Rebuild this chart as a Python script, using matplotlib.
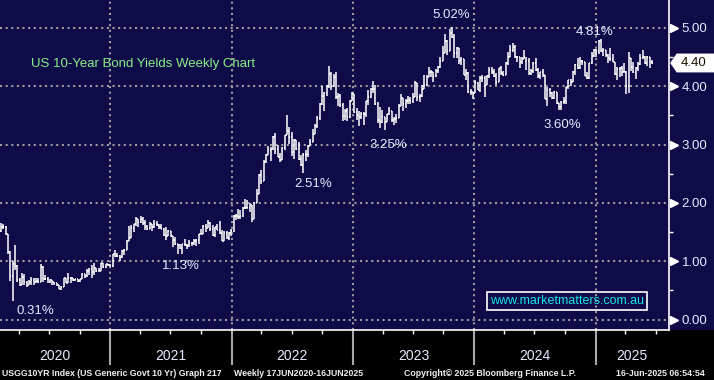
import numpy as np
import pandas as pd
import matplotlib
matplotlib.use('Agg')
import matplotlib.pyplot as plt
import matplotlib.dates as mdates
from matplotlib.patches import Rectangle, Polygon
from matplotlib.transforms import blended_transform_factory

plt.rcParams['font.family'] = ['Liberation Sans', 'DejaVu Sans']

# weekly bars (Friday close), US 10Y yield
first_open = 1.51

close_2020 = [1.58, 1.59, 1.47, 1.15, 0.74, 0.96, 0.92, 0.67, 0.59, 0.73, 0.64, 0.60,
              0.64, 0.68, 0.64, 0.66, 0.65, 0.90, 0.70, 0.69, 0.64, 0.67, 0.64, 0.63,
              0.59, 0.53, 0.56, 0.71, 0.63, 0.72, 0.72, 0.67, 0.69, 0.66, 0.70, 0.78,
              0.74, 0.84, 0.87, 0.82, 0.89, 0.83, 0.84, 0.97, 0.90, 0.95, 0.94]
high_2020 = [1.66, 1.64, 1.60, 1.46, 1.17, 1.00, 1.28, 0.93, 0.72, 0.79, 0.78, 0.66,
             0.67, 0.73, 0.71, 0.71, 0.72, 0.95, 0.91, 0.76, 0.73, 0.70, 0.68, 0.64,
             0.62, 0.59, 0.58, 0.72, 0.71, 0.79, 0.73, 0.72, 0.70, 0.69, 0.70, 0.79,
             0.78, 0.87, 0.88, 0.94, 0.97, 0.89, 0.88, 0.97, 0.97, 0.95, 0.96]
low_2020 = [1.50, 1.56, 1.45, 1.12, 0.66, 0.31, 0.85, 0.65, 0.57, 0.59, 0.60, 0.55,
            0.59, 0.60, 0.60, 0.63, 0.63, 0.65, 0.65, 0.67, 0.63, 0.63, 0.59, 0.60,
            0.57, 0.52, 0.51, 0.55, 0.62, 0.63, 0.62, 0.66, 0.66, 0.64, 0.64, 0.70,
            0.71, 0.73, 0.76, 0.72, 0.76, 0.82, 0.83, 0.84, 0.88, 0.88, 0.91]

close_2021 = [0.92, 1.12, 1.09, 1.09, 1.07, 1.17, 1.20, 1.34, 1.40, 1.57, 1.63, 1.72,
              1.67, 1.72, 1.66, 1.58, 1.56, 1.63, 1.58, 1.63, 1.62, 1.59, 1.55, 1.45,
              1.44, 1.52, 1.43, 1.36, 1.29, 1.28, 1.22, 1.30, 1.28, 1.26, 1.31, 1.32,
              1.34, 1.37, 1.46, 1.47, 1.61, 1.57, 1.65, 1.56, 1.45, 1.58, 1.54, 1.48,
              1.35, 1.48, 1.40, 1.49, 1.51]
high_2021 = [0.95, 1.13, 1.19, 1.14, 1.11, 1.19, 1.21, 1.36, 1.61, 1.62, 1.64, 1.75,
             1.73, 1.77, 1.75, 1.70, 1.62, 1.68, 1.64, 1.70, 1.69, 1.63, 1.64, 1.57,
             1.59, 1.54, 1.51, 1.44, 1.42, 1.30, 1.29, 1.30, 1.38, 1.30, 1.37, 1.33,
             1.38, 1.38, 1.47, 1.56, 1.62, 1.63, 1.70, 1.67, 1.62, 1.59, 1.64, 1.69,
             1.53, 1.52, 1.52, 1.50, 1.55]
low_2021 = [0.91, 0.90, 1.07, 1.07, 1.00, 1.06, 1.11, 1.20, 1.34, 1.39, 1.50, 1.60,
            1.58, 1.66, 1.62, 1.53, 1.53, 1.55, 1.52, 1.57, 1.60, 1.55, 1.55, 1.43,
            1.36, 1.44, 1.42, 1.25, 1.28, 1.13, 1.21, 1.13, 1.26, 1.21, 1.25, 1.26,
            1.28, 1.26, 1.30, 1.46, 1.46, 1.50, 1.57, 1.52, 1.43, 1.42, 1.53, 1.47,
            1.34, 1.41, 1.38, 1.36, 1.44]

close_2022 = [1.77, 1.78, 1.75, 1.78, 1.92, 1.92, 1.92, 1.97, 1.73, 2.00, 2.15, 2.48,
              2.38, 2.70, 2.83, 2.90, 2.93, 3.13, 2.92, 2.78, 2.74, 2.94, 3.16, 3.23,
              3.13, 2.88, 3.08, 2.92, 2.75, 2.65, 2.83, 2.84, 2.98, 3.04, 3.19, 3.32,
              3.45, 3.69, 3.83, 3.88, 4.00, 4.21, 4.01, 4.16, 3.81, 3.83, 3.68, 3.49,
              3.58, 3.48, 3.75, 3.87]
high_2022 = [1.80, 1.81, 1.90, 1.88, 1.93, 2.06, 2.05, 2.00, 1.87, 2.02, 2.24, 2.50,
             2.56, 2.73, 2.84, 2.98, 2.96, 3.14, 3.20, 3.00, 2.86, 2.96, 3.17, 3.50,
             3.30, 3.21, 3.10, 3.07, 3.05, 2.83, 2.86, 2.90, 3.00, 3.10, 3.26, 3.36,
             3.49, 3.72, 4.00, 3.90, 4.02, 4.34, 4.25, 4.21, 4.24, 3.89, 3.86, 3.72,
             3.61, 3.62, 3.76, 3.90]
low_2022 = [1.50, 1.70, 1.73, 1.72, 1.75, 1.90, 1.92, 1.84, 1.68, 1.72, 1.99, 2.15,
            2.33, 2.38, 2.69, 2.82, 2.72, 2.91, 2.84, 2.78, 2.71, 2.74, 2.91, 3.17,
            3.01, 2.80, 2.75, 2.90, 2.74, 2.63, 2.52, 2.72, 2.79, 2.98, 3.06, 3.19,
            3.28, 3.43, 3.68, 3.57, 3.84, 3.97, 3.93, 3.98, 3.79, 3.67, 3.65, 3.41,
            3.42, 3.40, 3.46, 3.74]

close_2023 = [3.56, 3.51, 3.48, 3.52, 3.53, 3.74, 3.82, 3.95, 3.96, 3.70, 3.43, 3.38,
              3.47, 3.39, 3.52, 3.57, 3.42, 3.44, 3.46, 3.67, 3.80, 3.69, 3.74, 3.76,
              3.74, 3.81, 4.06, 3.81, 3.84, 3.95, 4.03, 4.16, 4.25, 4.24, 4.18, 4.26,
              4.33, 4.44, 4.57, 4.78, 4.61, 4.91, 4.84, 4.57, 4.65, 4.44, 4.47, 4.20,
              4.23, 3.91, 3.90, 3.88]
high_2023 = [3.82, 3.63, 3.57, 3.56, 3.56, 3.74, 3.93, 3.97, 4.09, 4.02, 3.73, 3.64,
             3.60, 3.48, 3.53, 3.64, 3.57, 3.47, 3.52, 3.70, 3.86, 3.77, 3.79, 3.84,
             3.82, 3.89, 4.09, 4.06, 3.87, 4.02, 4.20, 4.19, 4.33, 4.28, 4.23, 4.30,
             4.34, 4.51, 4.69, 4.89, 4.80, 4.99, 5.02, 4.90, 4.67, 4.65, 4.50, 4.47,
             4.30, 4.24, 3.96, 3.91]
low_2023 = [3.55, 3.43, 3.32, 3.44, 3.33, 3.48, 3.68, 3.80, 3.89, 3.68, 3.37, 3.29,
            3.37, 3.25, 3.38, 3.50, 3.38, 3.34, 3.37, 3.45, 3.66, 3.57, 3.62, 3.69,
            3.70, 3.72, 3.81, 3.75, 3.73, 3.82, 3.95, 4.00, 4.17, 4.16, 4.08, 4.16,
            4.23, 4.31, 4.43, 4.57, 4.53, 4.61, 4.82, 4.48, 4.48, 4.38, 4.37, 4.19,
            4.10, 3.89, 3.85, 3.78]

close_2024 = [4.05, 3.94, 4.15, 4.14, 4.02, 4.18, 4.28, 4.25, 4.18, 4.08, 4.31, 4.22,
              4.20, 4.40, 4.50, 4.62, 4.67, 4.50, 4.50, 4.42, 4.46, 4.50, 4.43, 4.22,
              4.26, 4.40, 4.28, 4.18, 4.24, 4.19, 3.79, 3.94, 3.89, 3.80, 3.91, 3.71,
              3.65, 3.73, 3.75, 3.98, 4.10, 4.08, 4.24, 4.37, 4.31, 4.43, 4.41, 4.17,
              4.15, 4.40, 4.52, 4.62]
high_2024 = [4.10, 4.08, 4.17, 4.20, 4.17, 4.19, 4.33, 4.33, 4.30, 4.22, 4.32, 4.35,
             4.26, 4.42, 4.59, 4.70, 4.74, 4.70, 4.52, 4.51, 4.50, 4.63, 4.48, 4.48,
             4.29, 4.41, 4.48, 4.32, 4.25, 4.30, 4.20, 3.99, 3.97, 3.91, 3.92, 3.90,
             3.72, 3.74, 3.81, 3.99, 4.11, 4.12, 4.26, 4.39, 4.48, 4.50, 4.45, 4.42,
             4.24, 4.40, 4.59, 4.64]
low_2024 = [3.89, 3.93, 3.91, 4.08, 3.82, 4.04, 4.14, 4.21, 4.16, 4.03, 4.09, 4.19,
            4.17, 4.26, 4.36, 4.50, 4.59, 4.48, 4.42, 4.32, 4.38, 4.47, 4.28, 4.19,
            4.20, 4.22, 4.27, 4.15, 4.12, 4.16, 3.78, 3.67, 3.82, 3.79, 3.79, 3.70,
            3.60, 3.60, 3.70, 3.70, 3.96, 4.01, 4.07, 4.20, 4.29, 4.30, 4.36, 4.17,
            4.13, 4.12, 4.38, 4.51]

close_2025 = [4.60, 4.77, 4.61, 4.62, 4.54, 4.49, 4.47, 4.42, 4.21, 4.30, 4.31, 4.25,
              4.25, 4.00, 4.49, 4.33, 4.24, 4.31, 4.38, 4.48, 4.51, 4.40, 4.51, 4.41,
              4.40]
high_2025 = [4.64, 4.79, 4.81, 4.66, 4.63, 4.55, 4.66, 4.56, 4.41, 4.33, 4.33, 4.35,
             4.40, 4.27, 4.59, 4.40, 4.42, 4.33, 4.41, 4.55, 4.63, 4.52, 4.52, 4.51,
             4.45]
low_2025 = [4.51, 4.56, 4.59, 4.52, 4.50, 4.40, 4.43, 4.41, 4.20, 4.10, 4.16, 4.18,
            4.24, 3.86, 3.88, 4.27, 4.23, 4.12, 4.26, 4.37, 4.46, 4.38, 4.34, 4.31,
            4.38]

year_labels = ['2020', '2021', '2022', '2023', '2024', '2025']

# callouts: text, date, level
ann_text = ['0.31%', '1.13%', '2.51%', '3.25%', '5.02%', '3.60%', '4.81%']
ann_date = ['2020-05-19', '2021-08-02', '2022-09-03', '2023-04-17',
            '2023-10-23', '2024-09-22', '2024-12-30']
ann_level = [0.15, 0.91, 2.33, 3.00, 5.22, 3.34, 4.93]

close = np.array(close_2020 + close_2021 + close_2022 + close_2023 + close_2024 + close_2025)
high = np.array(high_2020 + high_2021 + high_2022 + high_2023 + high_2024 + high_2025)
low = np.array(low_2020 + low_2021 + low_2022 + low_2023 + low_2024 + low_2025)
opn = np.concatenate([[first_open], close[:-1]])
high = np.maximum(high, np.maximum(opn, close))
low = np.minimum(low, np.minimum(opn, close))

dates = pd.date_range('2020-02-07', periods=len(close), freq='W-FRI')
x = mdates.date2num(dates)

navy = '#0f0b49'
grid_c = '#9c9c9c'
txt_c = '#e6ecff'

fig = plt.figure(figsize=(7.14, 3.80), dpi=100, facecolor='black')
fig.patches.append(Rectangle((0, 50 / 380), 1, 330 / 380, transform=fig.transFigure,
                             facecolor=navy, edgecolor='none', zorder=-5))
ax = fig.add_axes([0, 50 / 380, 669 / 714, 330 / 380])
ax.set_facecolor(navy)

# OHLC bars
half = 3.0
ax.vlines(x, low, high, color='white', lw=1.1, zorder=3)
ax.hlines(opn, x - half, x, color='white', lw=1.1, zorder=3)
ax.hlines(close, x, x + half, color='white', lw=1.1, zorder=3)

x0 = mdates.datestr2num('2020-02-04')
x1 = mdates.datestr2num('2025-08-10')
ax.set_xlim(x0, x1)
ax.set_ylim(-0.18, 5.48)

for s in ['top', 'left']:
    ax.spines[s].set_visible(False)
ax.spines['right'].set_color('white')
ax.spines['bottom'].set_color('white')
ax.spines['right'].set_linewidth(1.2)
ax.spines['bottom'].set_linewidth(1.2)

# x axis: year separators and quarter ticks
ax.xaxis.set_major_locator(mdates.YearLocator())
ax.xaxis.set_minor_locator(mdates.MonthLocator(bymonth=[4, 7, 10]))
ax.tick_params(axis='x', which='major', length=25, width=1.5, color='#a8a8a8',
               labelbottom=False)
ax.tick_params(axis='x', which='minor', length=3, width=1, color='white')

# y axis on the right
ax.yaxis.tick_right()
ax.set_yticks([0, 1, 2, 3, 4, 5])
ax.set_yticks([0.5, 1.5, 2.5, 3.5, 4.5], minor=True)
ax.yaxis.set_major_formatter(matplotlib.ticker.FormatStrFormatter('%.2f'))
ax.tick_params(axis='y', which='major', length=0, pad=9, labelcolor=txt_c, labelsize=9.5)
ax.tick_params(axis='y', which='minor', length=3, width=1, color='white')

ax.grid(True, which='major', color=grid_c, lw=1.5, linestyle=(0, (1, 1.7)))
ax.set_axisbelow(True)

ytr = blended_transform_factory(ax.transAxes, ax.transData)
ax.plot([1.008] * 6, [0, 1, 2, 3, 4, 5], linestyle='none', marker='>', ms=6,
        color='white', transform=ytr, clip_on=False, zorder=5)

# last value tag
last = close[-1]
tag = Polygon([(1.003, last), (1.012, last + 0.15), (1.068, last + 0.15),
               (1.068, last - 0.15), (1.012, last - 0.15)], closed=True,
              facecolor='white', edgecolor='white', transform=ytr, clip_on=False, zorder=6)
ax.add_patch(tag)
ax.text(1.037, last, f'{last:.2f}', transform=ytr, ha='center', va='center',
        fontsize=9.5, color='#1a1000', zorder=7)

# year labels in the black strip
xtr = blended_transform_factory(ax.transData, fig.transFigure)
for lab in year_labels:
    a = max(mdates.datestr2num(lab + '-01-01'), x0)
    b = min(mdates.datestr2num(str(int(lab) + 1) + '-01-01'), x1)
    ax.text((a + b) / 2, 1 - 356 / 380, lab, transform=xtr, ha='center', va='center',
            fontsize=10, color=txt_c)

# callouts
for t, d, v in zip(ann_text, ann_date, ann_level):
    ax.text(mdates.datestr2num(d), v, t, ha='center', va='center', fontsize=9.5,
            color=txt_c, zorder=4)

ax.text(31 / 669, 1 - 64 / 330, 'US 10-Year Bond Yields Weekly Chart', transform=ax.transAxes,
        ha='left', va='center', fontsize=9.5, color='#86f086')

ax.text(567 / 669, 1 - 301 / 330, 'www.marketmatters.com.au', transform=ax.transAxes,
        ha='center', va='center', fontsize=9, color='#19e3ea', zorder=6,
        bbox=dict(boxstyle='square,pad=0.25', facecolor='none', edgecolor='white', lw=1.2))

# footer
foot = dict(fontsize=6.3, color='#f0f0f0', va='center', ha='left', weight='bold')
fig.text(2 / 714, 1 - 373 / 380, 'USGG10YR Index (US Generic Govt 10 Yr) Graph 217', **foot)
fig.text(234 / 714, 1 - 373 / 380, 'Weekly 17JUN2020-16JUN2025', **foot)
fig.text(404 / 714, 1 - 373 / 380, 'Copyright\u00a9 2025 Bloomberg Finance L.P.', **foot)
fig.text(616 / 714, 1 - 373 / 380, '16-Jun-2025 06:54:54', **foot)

fig.savefig('out.png', dpi=100, facecolor='black')
